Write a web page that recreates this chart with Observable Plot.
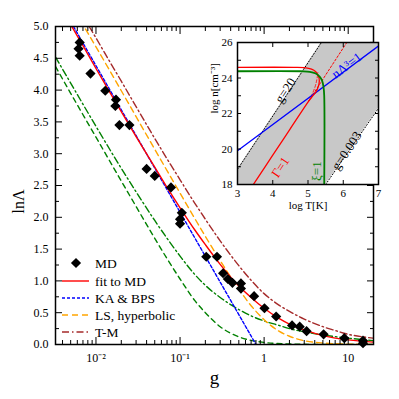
<!DOCTYPE html>
<html><head><meta charset="utf-8">
<script src="https://cdn.jsdelivr.net/npm/d3@7"></script>
<script src="https://cdn.jsdelivr.net/npm/@observablehq/plot@0.6"></script>
<style>
body{margin:0;background:#fff}
#wrap{position:relative;width:399px;height:399px}
#wrap svg{position:absolute;left:0;top:0}
</style>
</head><body><div id="wrap"></div>
<script>
// ---------- main chart data ----------
const mdG = [0.0064,0.0062,0.0064,0.0086,0.0129,0.0173,0.0170,0.0190,0.0250,0.0400,0.0500,0.0780,0.105,0.100,0.100,0.205,0.275,0.325,0.37,0.42,0.53,0.53,0.76,1.01,1.39,2.15,2.65,3.2,5.1,9.0,15,15];
const mdV = [4.75,4.65,4.54,4.26,3.99,3.85,3.75,3.45,3.45,2.76,2.65,2.47,2.07,1.97,1.90,1.38,1.38,1.12,1.03,0.97,0.96,0.88,0.76,0.57,0.44,0.30,0.28,0.21,0.16,0.10,0.06,0.02];

const fitG = [0.005,0.007,0.01,0.015,0.02,0.03,0.05,0.07,0.1,0.15,0.2,0.3,0.5,0.7,1,1.5,2,3,5,7,10,15,20];
const fitV = [5.03,4.70,4.34,3.94,3.66,3.27,2.79,2.47,2.15,1.80,1.57,1.26,0.92,0.74,0.57,0.41,0.32,0.23,0.14,0.10,0.073,0.049,0.037];

const kaG = [0.0054,0.8];
const kaV = [5.0,0.0];

const lsG = [0.0075,0.01,0.02,0.05,0.1,0.2,0.3,0.5,0.7,1,1.5,2,3,5,10,20];
const lsV = [4.96,4.68,3.99,3.07,2.38,1.70,1.32,0.87,0.61,0.39,0.21,0.13,0.06,0.023,0.006,0.0015];

const tmG = [0.0083,0.01,0.015,0.02,0.03,0.05,0.07,0.1,0.15,0.2,0.3,0.5,0.7,1,1.5,2,3,5,7,10,15,20];
const tmV = [5.0,4.82,4.42,4.14,3.74,3.24,2.92,2.59,2.22,1.97,1.63,1.24,1.01,0.80,0.62,0.52,0.40,0.28,0.22,0.16,0.12,0.10];

const gdG = [0.0033,0.005,0.01,0.02,0.03,0.05,0.07,0.1,0.15,0.2,0.3,0.5,0.7,1,1.5,2,3,5,10,20];
const gdV = [4.52,4.11,3.43,2.77,2.40,1.95,1.67,1.39,1.10,0.93,0.74,0.55,0.45,0.37,0.30,0.25,0.20,0.15,0.10,0.06];

const gsG = [0.0033,0.005,0.01,0.02,0.03,0.05,0.07,0.1,0.15,0.2,0.3,0.5,0.7,1,2,5,20];
const gsV = [4.37,3.95,3.26,2.57,2.17,1.67,1.35,1.03,0.69,0.50,0.28,0.12,0.065,0.033,0.008,0.001,0];

const xMajor = [0.01,0.1,1,10];
const xMajorLabels = ["10\u207B\u00B2","10\u207B\u00B9","1","10"];
const xMinor = [0.004,0.005,0.006,0.007,0.008,0.009,0.02,0.03,0.04,0.05,0.06,0.07,0.08,0.09,0.2,0.3,0.4,0.5,0.6,0.7,0.8,0.9,2,3,4,5,6,7,8,9,20];
const yMajor = [0,0.5,1,1.5,2,2.5,3,3.5,4,4.5,5];
const yMinor = [0.25,0.75,1.25,1.75,2.25,2.75,3.25,3.75,4.25,4.75];

const legendLabels = ["MD","fit to MD","KA & BPS","LS, hyperbolic","T-M"];

// ---------- inset data ----------
const shadeT  = [3,5.38,5.5,7];
const shadeLo = [18,18,18,22.3];
const shadeHi = [18.85,26,26,26];
const g20T = [3,5.38], g20N = [18.85,26];
const g003T = [5.5,7], g003N = [18,22.3];
const lamT = [3,7], lamN = [19.9,25.8];
const gamT = [3,4.6,4.9,5.1,5.22,5.3,5.32,5.29,5.22,5.12,5.02,4.5,4,3.45];
const gamN = [24.6,24.6,24.58,24.5,24.35,24.1,23.8,23.5,23.2,22.95,22.7,21.15,19.65,18];
const gamClT = [5.02,6.1], gamClN = [22.7,26];
const gamMidT = [5.02,5.12,5.2,5.25,5.28], gamMidN = [22.7,23.1,23.5,23.9,24.3];
const xiT = [3,4.8,5.05,5.22,5.33,5.4,5.44,5.46,5.46];
const xiN = [24.38,24.38,24.35,24.25,24.08,23.85,23.5,23.0,18];
const insetXTicks = [3,4,5,6,7];
const insetYTicks = [18,20,22,24,26];
const insetYMinor = [19,21,23,25];

const zip = (a,b) => a.map((x,i)=>({x, y:b[i]}));
const font = "Liberation Serif, Times New Roman, serif";
const lw = 1.4;

const series = [
  {d: zip(gsG,gsV), stroke:"#008000", dash:"5,4"},
  {d: zip(gdG,gdV), stroke:"#008000", dash:"7,3,1.5,3"},
  {d: zip(tmG,tmV), stroke:"#a52a2a", dash:"7,3,1.5,3"},
  {d: zip(lsG,lsV), stroke:"#ffa500", dash:"6,4"},
  {d: zip(kaG,kaV), stroke:"#0000ff", dash:"3,2"},
  {d: zip(fitG,fitV), stroke:"#ff0000", dash:null}
];

const main = Plot.plot({
  width: 399, height: 399,
  marginLeft: 55, marginRight: 26, marginTop: 26, marginBottom: 55,
  x: {type: "log", domain: [0.0033, 20]},
  y: {domain: [0, 5]},
  style: {fontFamily: font, fontSize: "12px", background: "white", color: "black"},
  marks: [
    ...series.map(s => Plot.line(s.d, {x:"x", y:"y", stroke:s.stroke, strokeWidth:lw, strokeDasharray:s.dash, curve:"monotone-x", clip:true})),
    Plot.dot(zip(mdG,mdV), {x:"x", y:"y", symbol:"diamond2", r:4.6, fill:"black", stroke:"none"}),
    Plot.frame({stroke:"black", strokeWidth:1.5}),
    Plot.axisX(xMajor, {anchor:"bottom", tickSize:0, tickPadding:9, tickFormat:(d)=>xMajorLabels[xMajor.indexOf(d)], label:null, fontSize:12}),
    Plot.axisX(xMajor, {anchor:"bottom", tickSize:-7, tickFormat:()=>"", label:null}),
    Plot.axisX(xMinor, {anchor:"bottom", tickSize:-4, tickFormat:()=>"", label:null}),
    Plot.axisX(xMajor, {anchor:"top", tickSize:-7, tickFormat:()=>"", label:null}),
    Plot.axisX(xMinor, {anchor:"top", tickSize:-4, tickFormat:()=>"", label:null}),
    Plot.axisY(yMajor, {anchor:"left", tickSize:0, tickPadding:7, tickFormat:d3.format(".1f"), label:null, fontSize:12}),
    Plot.axisY(yMajor, {anchor:"left", tickSize:-7, tickFormat:()=>"", label:null}),
    Plot.axisY(yMinor, {anchor:"left", tickSize:-4, tickFormat:()=>"", label:null}),
    Plot.axisY(yMajor, {anchor:"right", tickSize:-7, tickFormat:()=>"", label:null}),
    Plot.axisY(yMinor, {anchor:"right", tickSize:-4, tickFormat:()=>"", label:null}),
    Plot.text(["g"], {frameAnchor:"bottom", dy:33, fontSize:19, text:d=>d, lineAnchor:"middle"}),
    Plot.text(["ln\u039B"], {frameAnchor:"left", dx:-37, dy:28, rotate:-90, fontSize:16, text:d=>d, lineAnchor:"middle"})
  ]
});

// legend (drawn into the main svg)
{
  const svg = d3.select(main);
  const g = svg.append("g").attr("font-family", font).attr("font-size", 13.5).attr("text-anchor","start");
  const ys = [263, 281, 298, 315, 332];
  const styles = [null, {c:"#ff0000",d:null}, {c:"#0000ff",d:"3,2"}, {c:"#ffa500",d:"6,4"}, {c:"#a52a2a",d:"7,3,1.5,3"}];
  legendLabels.forEach((lab, i) => {
    if (i === 0) {
      g.append("path").attr("d", d3.symbol(d3.symbolDiamond2, Math.PI*4.6*4.6)()).attr("transform", `translate(76,${ys[i]})`).attr("fill","black");
    } else {
      g.append("line").attr("x1",62).attr("x2",89).attr("y1",ys[i]).attr("y2",ys[i])
        .attr("stroke",styles[i].c).attr("stroke-width",lw).attr("stroke-dasharray",styles[i].d);
    }
    g.append("text").attr("x",95).attr("y",ys[i]).attr("dy","0.35em").text(lab);
  });
}

const insetLines = [
  {d: zip(g20T,g20N), stroke:"black", w:1, dash:"1,2"},
  {d: zip(g003T,g003N), stroke:"black", w:1, dash:"1,2"},
  {d: zip(gamClT,gamClN), stroke:"#ff0000", w:1, dash:"2,2"},
  {d: zip(gamMidT,gamMidN), stroke:"#ff0000", w:0.8, dash:"3,2"},
  {d: zip(lamT,lamN), stroke:"#0000ff", w:1.3, dash:null},
  {d: zip(gamT,gamN), stroke:"#ff0000", w:1.3, dash:null},
  {d: zip(xiT,xiN), stroke:"#008000", w:1.8, dash:null}
];

const inset = Plot.plot({
  width: 399, height: 399,
  marginLeft: 237, marginRight: 21, marginTop: 42, marginBottom: 215,
  x: {domain: [3, 7]},
  y: {domain: [18, 26]},
  style: {fontFamily: font, fontSize: "11px", background: "transparent", color: "black"},
  marks: [
    Plot.frame({fill:"white", stroke:"none"}),
    Plot.areaY(shadeT.map((t,i)=>({t, lo:shadeLo[i], hi:shadeHi[i]})), {x:"t", y1:"lo", y2:"hi", fill:"#c8c8c8"}),
    ...insetLines.map(s => Plot.line(s.d, {x:"x", y:"y", stroke:s.stroke, strokeWidth:s.w, strokeDasharray:s.dash, curve:"catmull-rom", clip:true})),
    Plot.text(["g=20"], {x:()=>4.36, y:()=>23.3, text:d=>d, rotate:-56.5, fontSize:13}),
    Plot.text(["g=0.003"], {x:()=>6.1, y:()=>19.9, text:d=>d, rotate:-56.5, fontSize:13}),
    Plot.text(["n\u039B\u00B3=1"], {x:()=>6.1, y:()=>24.7, text:d=>d, rotate:-37, fontSize:13, fill:"#0000ff"}),
    Plot.text(["\u0393=1"], {x:()=>4.22, y:()=>18.97, text:d=>d, rotate:-56.5, fontSize:13, fill:"#ff0000"}),
    Plot.text(["\u03BE=1"], {x:()=>5.24, y:()=>18.75, text:d=>d, rotate:-90, fontSize:13, fill:"#008000"}),
    Plot.frame({stroke:"black", strokeWidth:1.5}),
    Plot.axisX(insetXTicks, {anchor:"bottom", tickSize:0, tickPadding:5, label:null}),
    Plot.axisX(insetXTicks, {anchor:"bottom", tickSize:-4, tickFormat:()=>"", label:null}),
    Plot.axisX(insetXTicks, {anchor:"top", tickSize:-4, tickFormat:()=>"", label:null}),
    Plot.axisY(insetYTicks, {anchor:"left", tickSize:0, tickPadding:5, label:null}),
    Plot.axisY(insetYTicks.concat(insetYMinor), {anchor:"left", tickSize:-4, tickFormat:()=>"", label:null}),
    Plot.axisY(insetYTicks.concat(insetYMinor), {anchor:"right", tickSize:-4, tickFormat:()=>"", label:null}),
    Plot.text(["log T[K]"], {frameAnchor:"bottom", dy:21, text:d=>d, fontSize:11, lineAnchor:"middle"}),
    Plot.text(["log n[cm\u207B\u00B3]"], {frameAnchor:"left", dx:-23, rotate:-90, text:d=>d, fontSize:11, lineAnchor:"middle"})
  ]
});

document.getElementById("wrap").append(main, inset);
</script>
</body></html>
